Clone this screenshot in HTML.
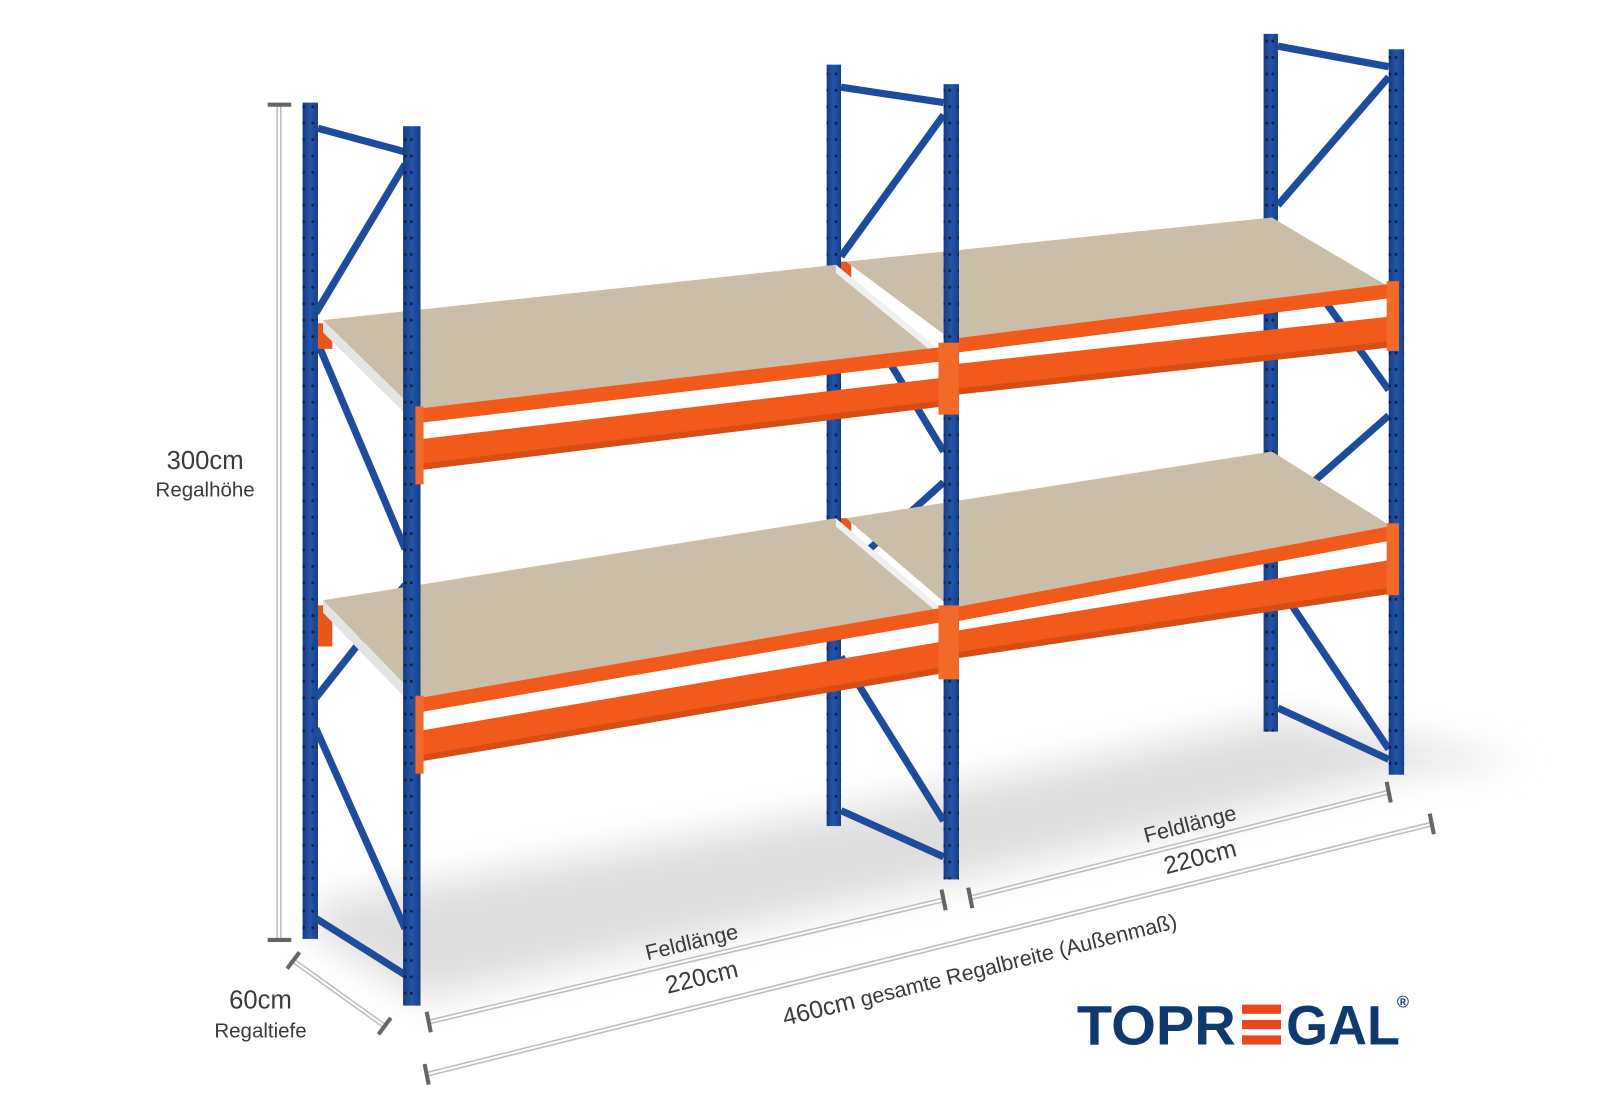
<!DOCTYPE html>
<html><head><meta charset="utf-8"><style>
html,body{margin:0;padding:0;background:#fff;width:1600px;height:1100px;overflow:hidden}
svg{display:block}
text{font-family:"Liberation Sans",sans-serif;fill:#3a3a3a}
</style></head><body>
<svg width="1600" height="1100" viewBox="0 0 1560 1072" preserveAspectRatio="none" xmlns="http://www.w3.org/2000/svg">
<defs>
<filter id="bl"><feGaussianBlur stdDeviation="18"/></filter>
<pattern id="holes" width="15" height="16" patternUnits="userSpaceOnUse"><circle cx="5" cy="8" r="1.4" fill="#0c1f45"/><circle cx="11" cy="8" r="1.4" fill="#0c1f45"/></pattern>
<linearGradient id="up" x1="0" x2="1"><stop offset="0" stop-color="#163c82"/><stop offset="0.5" stop-color="#2455a8"/><stop offset="1" stop-color="#173f88"/></linearGradient>
</defs>
<polygon points="300,905 410,975 935,858 1370,752 1490,742 1250,700 820,790 310,880" fill="#d6d6d6" filter="url(#bl)" opacity="0.8"/>
<g fill="url(#up)">
<rect x="295" y="100" width="15" height="815"/>
<rect x="806" y="63" width="14" height="742"/>
<rect x="1232" y="33" width="14" height="680"/>
</g>
<g fill="url(#holes)"><rect x="295" y="100" width="15" height="815"/><rect x="806" y="63" width="14" height="742"/><rect x="1232" y="33" width="14" height="680"/></g>
<g stroke="#1d4c9c" stroke-width="7" stroke-linecap="butt">
<line x1="310" y1="125" x2="395" y2="148"/><line x1="395" y1="160" x2="308" y2="305"/><line x1="308" y1="330" x2="395" y2="535"/><line x1="395" y1="570" x2="308" y2="680"/><line x1="308" y1="710" x2="395" y2="905"/><line x1="308" y1="895" x2="395" y2="950"/>
<line x1="820" y1="85" x2="920" y2="100"/><line x1="920" y1="112" x2="820" y2="250"/><line x1="820" y1="275" x2="920" y2="440"/><line x1="920" y1="470" x2="820" y2="560"/><line x1="820" y1="640" x2="920" y2="800"/><line x1="820" y1="790" x2="920" y2="835"/>
<line x1="1246" y1="45" x2="1354" y2="65"/><line x1="1354" y1="75" x2="1246" y2="200"/><line x1="1246" y1="230" x2="1354" y2="380"/><line x1="1354" y1="405" x2="1246" y2="500"/><line x1="1246" y1="570" x2="1354" y2="730"/><line x1="1246" y1="690" x2="1354" y2="740"/>
</g>
<g fill="#e8561a"><rect x="310" y="315" width="14" height="25"/><rect x="310" y="590" width="14" height="40"/><rect x="820" y="255" width="10" height="20"/><rect x="820" y="505" width="10" height="20"/></g>
<g fill="#cbbea8">
<polygon points="315,312 815,258 920,345 410,405"/>
<polygon points="825,255 1240,212 1360,283 930,333"/>
<polygon points="315,585 815,505 920,595 410,683"/>
<polygon points="825,505 1240,440 1360,515 930,595"/>
</g>
<g fill="#e4e4e4">
<polygon points="315,312 410,405 410,418 315,324"/>
<polygon points="315,585 410,683 410,696 315,597"/>
<polygon points="815,258 920,345 920,352 815,266" fill="#f0f0f0"/>
<polygon points="815,505 920,595 920,602 815,513" fill="#f0f0f0"/>
</g>
<g fill="#f15a1b">
<polygon points="410,398 920,338 920,352 410,412"/>
<polygon points="410,428 920,368 920,396 410,458"/>
<polygon points="930,330 1360,276 1360,290 930,344"/>
<polygon points="930,355 1360,308 1360,338 930,385"/>
<polygon points="410,680 920,592 920,606 410,694"/>
<polygon points="410,712 920,625 920,656 410,742"/>
<polygon points="930,592 1360,512 1360,526 930,606"/>
<polygon points="930,615 1360,545 1360,578 930,642"/>
</g>
<g fill="#c84410" opacity="0.6">
<polygon points="410,452 920,390 920,396 410,458"/>
<polygon points="930,379 1360,332 1360,338 930,385"/>
<polygon points="410,736 920,650 920,656 410,742"/>
<polygon points="930,636 1360,572 1360,578 930,642"/>
</g>
<g fill="url(#up)">
<rect x="393" y="123" width="17" height="857"/>
<rect x="920" y="82" width="15" height="775"/>
<rect x="1354" y="48" width="15" height="707"/>
</g>
<g fill="url(#holes)"><rect x="394" y="123" width="15" height="857"/><rect x="920" y="82" width="15" height="775"/><rect x="1354" y="48" width="15" height="707"/></g>
<g fill="#f26a2a">
<rect x="405" y="396" width="8" height="76"/><rect x="405" y="678" width="8" height="76"/>
<rect x="915" y="334" width="20" height="70"/><rect x="915" y="590" width="20" height="72"/>
<rect x="1352" y="274" width="12" height="68"/><rect x="1352" y="510" width="12" height="70"/>
</g>
<g stroke="#bdbdbd" stroke-width="5" fill="none">
<line x1="272" y1="102" x2="272" y2="916"/>
<line x1="287" y1="937" x2="375" y2="1000"/>
<line x1="418" y1="996" x2="920" y2="877"/>
<line x1="946" y1="875" x2="1354" y2="772"/>
<line x1="416" y1="1047" x2="1396" y2="803"/>
</g>
<g stroke="#fff" stroke-width="2" fill="none">
<line x1="272" y1="102" x2="272" y2="916"/>
<line x1="287" y1="937" x2="375" y2="1000"/>
<line x1="418" y1="996" x2="920" y2="877"/>
<line x1="946" y1="875" x2="1354" y2="772"/>
<line x1="416" y1="1047" x2="1396" y2="803"/>
</g>
<g stroke="#666" stroke-width="4">
<line x1="261" y1="102" x2="284" y2="102"/><line x1="261" y1="916" x2="284" y2="916"/>
<line x1="280" y1="944" x2="292" y2="928"/><line x1="369" y1="1008" x2="381" y2="992"/>
<line x1="416" y1="986" x2="420" y2="1006"/><line x1="918" y1="867" x2="922" y2="887"/>
<line x1="944" y1="865" x2="948" y2="885"/><line x1="1352" y1="762" x2="1356" y2="782"/>
<line x1="414" y1="1037" x2="418" y2="1057"/><line x1="1394" y1="793" x2="1398" y2="813"/>
</g>
<text x="200" y="457" font-size="25" text-anchor="middle">300cm</text>
<text x="200" y="484" font-size="20" text-anchor="middle">Regalhöhe</text>
<text x="254" y="983" font-size="25" text-anchor="middle">60cm</text>
<text x="254" y="1011" font-size="20" text-anchor="middle">Regaltiefe</text>
<text transform="translate(676,925) rotate(-13.5)" font-size="21" text-anchor="middle">Feldlänge</text>
<text transform="translate(686,960) rotate(-13.5)" font-size="24" text-anchor="middle">220cm</text>
<text transform="translate(1162,810) rotate(-14.5)" font-size="21" text-anchor="middle">Feldlänge</text>
<text transform="translate(1172,843) rotate(-14.5)" font-size="24" text-anchor="middle">220cm</text>
<text transform="translate(957,952) rotate(-14)" font-size="21" text-anchor="middle"><tspan font-size="24">460cm</tspan> gesamte Regalbreite (Außenmaß)</text>
<text x="1050" y="1018" font-size="54" font-weight="bold" textLength="155" lengthAdjust="spacingAndGlyphs" style="fill:#0f3a6e">TOPR</text>
<g fill="#e8481c"><rect x="1211" y="979" width="38" height="9"/><rect x="1211" y="994" width="38" height="9"/><rect x="1211" y="1009" width="38" height="9"/></g>
<text x="1254" y="1018" font-size="54" font-weight="bold" textLength="111" lengthAdjust="spacingAndGlyphs" style="fill:#0f3a6e">GAL</text>
<text x="1362" y="982" font-size="16" font-weight="bold" style="fill:#0f3a6e">®</text>
</svg>
</body></html>
